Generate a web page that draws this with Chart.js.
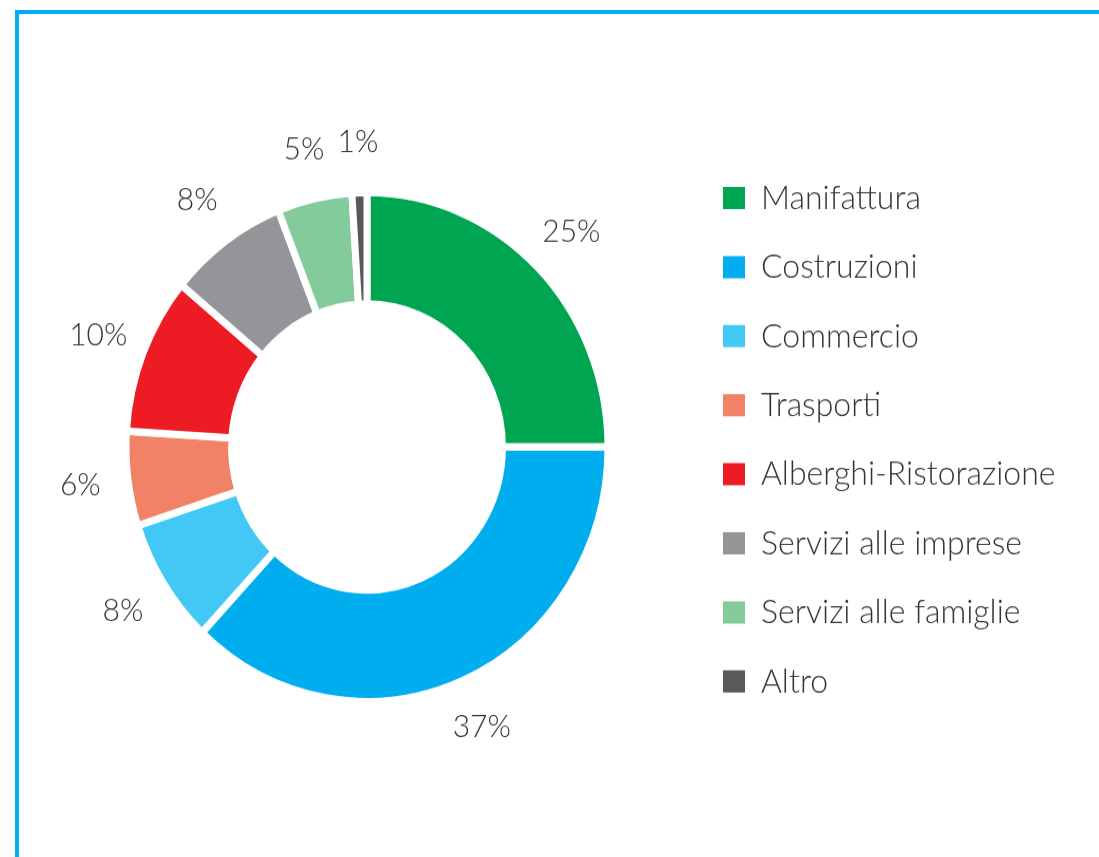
<!DOCTYPE html>
<html>
<head>
<meta charset="utf-8">
<script src="https://cdn.jsdelivr.net/npm/chart.js@4.4.1/dist/chart.umd.min.js"></script>
<style>
  html, body { margin: 0; padding: 0; background: #fff; overflow: hidden; }
  #frame { position: absolute; left: 15px; top: 10px; width: 1200px; height: 1000px;
           border: 4px solid #00aeef; box-sizing: border-box; }
  /* the reference is slightly stretched vertically */
  #wrap { position: absolute; left: 0; top: 0; width: 1099px; height: 812px;
          transform: scaleY(1.056); transform-origin: 0 0; }
</style>
</head>
<body>
<div id="frame"></div>
<div id="wrap"><canvas id="chart" width="1099" height="812"></canvas></div>
<script>
const categories = ['Manifattura', 'Costruzioni', 'Commercio', 'Trasporti',
  'Alberghi-Ristorazione', 'Servizi alle imprese', 'Servizi alle famiglie', 'Altro'];
const shares = [25, 37, 8, 6, 10, 8, 5, 1];
const colors = ['#00a551', '#00aeef', '#43c8f5', '#f28265',
  '#ed1c24', '#939598', '#84cb9c', '#58595b'];

const TEXT = '#333333';
const FONT = 'Lato';
const WEIGHT = 300;
const LEG_SIZE = 32;
const LEG_PAD = 33.4;
const BOX_W = 22;
const LABEL_R = 289;

// work out the legend width so the doughnut stays where it is in the reference
const mctx = document.createElement('canvas').getContext('2d');
mctx.font = WEIGHT + ' ' + LEG_SIZE + 'px ' + FONT;
const maxText = Math.max(...categories.map(c => mctx.measureText(c).width));
const legendW = LEG_PAD + BOX_W + LEG_SIZE / 2 + maxText + 10;
const padRight = Math.max(0, 1099 - 689.6 - legendW);

const pctLabels = {
  id: 'pctLabels',
  afterDatasetsDraw(chart) {
    const ctx = chart.ctx;
    const meta = chart.getDatasetMeta(0);
    ctx.save();
    ctx.font = WEIGHT + ' 30px ' + FONT;
    ctx.fillStyle = TEXT;
    ctx.textAlign = 'center';
    ctx.textBaseline = 'middle';
    meta.data.forEach((arc, i) => {
      const p = arc.getProps(['x', 'y', 'startAngle', 'endAngle'], true);
      const a = (p.startAngle + p.endAngle) / 2;
      ctx.fillText(shares[i] + '%', p.x + Math.cos(a) * LABEL_R, p.y + Math.sin(a) * LABEL_R);
    });
    ctx.restore();
  }
};

new Chart(document.getElementById('chart').getContext('2d'), {
  type: 'doughnut',
  data: {
    labels: categories,
    datasets: [{
      data: shares,
      backgroundColor: colors,
      borderColor: '#ffffff',
      borderWidth: 7
    }]
  },
  options: {
    responsive: false,
    animation: false,
    radius: 241,
    cutout: '56.2%',
    layout: { padding: { top: 138.1, bottom: 103.5, left: 44.4, right: padRight } },
    plugins: {
      tooltip: { enabled: false },
      legend: {
        position: 'right',
        align: 'start',
        labels: {
          color: TEXT,
          font: { family: FONT, size: LEG_SIZE, weight: WEIGHT },
          boxWidth: BOX_W,
          boxHeight: 21,
          padding: LEG_PAD,
          generateLabels(chart) {
            const items = Chart.overrides.doughnut.plugins.legend.labels.generateLabels(chart);
            return items.map(it => Object.assign(it, { lineWidth: 0 }));
          }
        }
      }
    }
  },
  plugins: [pctLabels]
});
</script>
</body>
</html>
